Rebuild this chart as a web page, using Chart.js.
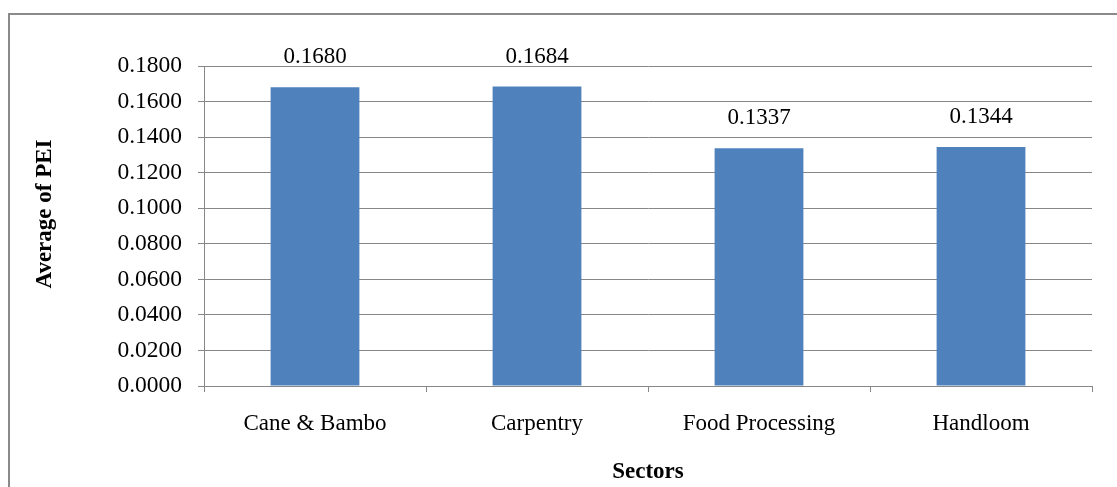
<!DOCTYPE html>
<html>
<head>
<meta charset="utf-8">
<script src="https://cdn.jsdelivr.net/npm/chart.js@4/dist/chart.umd.min.js"></script>
<style>
    html, body { margin: 0; padding: 0; background: #fff; }
    #wrap { position: relative; width: 1117px; height: 487px; overflow: hidden; }
    #frame { position: absolute; left: 8px; top: 13px; width: 1200px; height: 600px;
             border-left: 2px solid #8a8a8a; border-top: 2px solid #8a8a8a; }
    #chart { position: absolute; left: 0; top: 0; }
</style>
</head>
<body>
<div id="wrap">
    <div id="frame"></div>
    <canvas id="chart" width="1117" height="487"></canvas>
</div>
<script>
var sectores = ["Cane & Bambo", "Carpentry", "Food Processing", "Handloom"];
var promedioPEI = [0.1680, 0.1684, 0.1337, 0.1344];
var tituloY = "Average of PEI";

var gris = "#878787";
var fuente = "'Liberation Serif', 'Times New Roman', serif";

// etiquetas encima de cada barra + titulo del eje Y (un poco mas arriba que el centro, como en Excel)
var etiquetas = {
    id: "etiquetas",
    afterDatasetsDraw: function (chart) {
        var ctx = chart.ctx;
        var meta = chart.getDatasetMeta(0);
        var area = chart.chartArea;
        ctx.save();
        ctx.font = "23px " + fuente;
        ctx.fillStyle = "#000";
        ctx.textAlign = "center";
        ctx.textBaseline = "middle";
        meta.data.forEach(function (bar, i) {
            ctx.fillText(promedioPEI[i].toFixed(4), bar.x, bar.y - 30);
        });

        ctx.font = "bold 23px " + fuente;
        ctx.translate(45, (area.top + area.bottom) / 2 - 12);
        ctx.rotate(-Math.PI / 2);
        ctx.fillText(tituloY, 0, 0);
        ctx.restore();
    }
};

var canvas = document.getElementById('chart').getContext('2d');
window.bar = new Chart(canvas, {
    type: "bar",
    data: {
        labels: sectores,
        datasets: [{
            label: tituloY,
            backgroundColor: "#4F81BD",
            data: promedioPEI,
            categoryPercentage: 0.8,
            barPercentage: 0.5
        }]
    },
    plugins: [etiquetas],
    options: {
        responsive: false,
        animation: false,
        layout: { padding: { left: 0, top: 66, right: 25, bottom: 0 } },
        plugins: {
            legend: { display: false },
            tooltip: { enabled: false }
        },
        scales: {
            y: {
                min: 0,
                max: 0.18,
                afterFit: function (scale) { scale.width = 204; },
                ticks: {
                    stepSize: 0.02,
                    color: "#000",
                    padding: 16,
                    font: { family: fuente, size: 23.5 },
                    callback: function (v) { return v.toFixed(4); }
                },
                grid: { color: gris, lineWidth: 1, tickLength: 6 },
                border: { color: gris, width: 1 }
            },
            x: {
                afterFit: function (scale) { scale.height = 101; },
                ticks: {
                    color: "#000",
                    padding: 18,
                    font: { family: fuente, size: 23 }
                },
                grid: { color: gris, lineWidth: 1, tickLength: 6, drawOnChartArea: false, offset: true },
                border: { color: gris, width: 1 },
                title: {
                    display: true,
                    text: "Sectors",
                    color: "#000",
                    font: { family: fuente, size: 23, weight: "bold" },
                    padding: { top: 0, bottom: 1 }
                }
            }
        }
    }
});
</script>
</body>
</html>
